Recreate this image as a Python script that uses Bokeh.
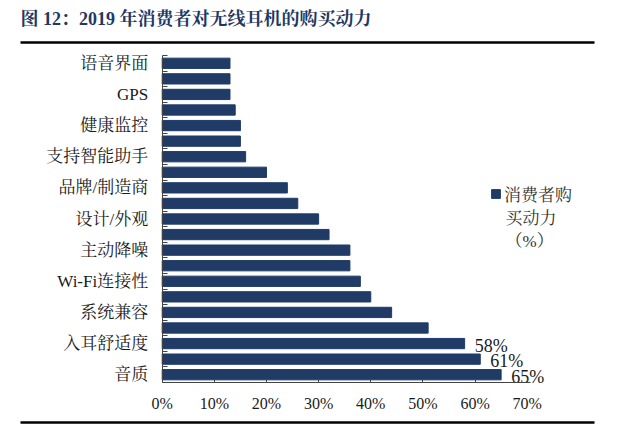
from bokeh.plotting import figure
from bokeh.models import (Range1d, FixedTicker, PrintfTickFormatter, Label, Arrow,
                          Legend, LegendItem, ColumnDataSource, LinearAxis)
from bokeh.core.properties import value
from bokeh.embed import file_html
from bokeh.resources import INLINE

# ---- data (top to bottom) ----
labels = ["语音界面", "", "GPS", "", "健康监控", "", "支持智能助手", "", "品牌/制造商", "",
          "设计/外观", "", "主动降噪", "", "Wi-Fi连接性", "", "系统兼容", "", "入耳舒适度", "", "音质"]
values = [13, 13, 13, 14, 15, 15, 16, 20, 24, 26, 30, 32, 36, 36, 38, 40, 44, 51, 58, 61, 65]
x_ticks = [0, 10, 20, 30, 40, 50, 60, 70]
shown_values = [58, 61, 65]
legend_line1 = "消费者购"
legend_line2 = "买动力"
legend_line3 = "（%）"
title_text = "图 12：2019 年消费者对无线耳机的购买动力"

n = len(values)
ypos = [n - 1 - i for i in range(n)]

W, H = 640, 429
NAVY = "#1F3B66"
TXT = "#1a1a1a"
FONT = "'Liberation Serif', 'Noto Serif CJK SC', 'Noto Sans CJK SC', serif"

# pixel geometry of the plotting area inside the full-canvas frame
x0_px, x70_px = 161.7, 526.7
ppx = (x70_px - x0_px) / 70.0
y_top_px, y_bot_px = 55.0, 382.0
ppy = (y_bot_px - y_top_px) / n

src = ColumnDataSource(dict(y=ypos, v=values, lab=labels))
lab_idx = [i for i in range(n - len(shown_values), n)]
txt_src = ColumnDataSource(dict(y=[ypos[i] for i in lab_idx],
                                v=[values[i] for i in lab_idx],
                                t=[f"{values[i]}%" for i in lab_idx]))

p = figure(width=W, height=H, output_backend="svg", toolbar_location=None,
           x_range=Range1d(-x0_px / ppx, (W - x0_px) / ppx),
           y_range=Range1d(-0.5 - (H - y_bot_px) / ppy, n - 0.5 + y_top_px / ppy),
           x_axis_location=None, y_axis_location=None,
           min_border=0, min_border_left=0, min_border_right=0,
           min_border_top=0, min_border_bottom=0)
p.outline_line_color = None
p.grid.visible = False
p.background_fill_color = "white"
p.border_fill_color = "white"

r = p.hbar(y="y", right="v", left=0, height=0.66, source=src, fill_color=NAVY, line_color=NAVY)

p.text(x="v", y="y", text="t", source=txt_src, x_offset=10, y_offset=2,
       text_baseline="middle", text_align="left", text_font=value(FONT),
       text_font_size="18px", text_color=TXT)

# axes pinned at the data origin
xa = LinearAxis(fixed_location=-0.5, bounds=(0, 70.6))
xa.ticker = FixedTicker(ticks=x_ticks)
xa.formatter = PrintfTickFormatter(format="%d%%")
xa.major_tick_in = 4
xa.major_tick_out = 0
xa.minor_tick_line_color = None
xa.major_label_standoff = 12
xa.major_label_text_font = FONT
xa.major_label_text_font_size = "16px"
xa.major_label_text_color = TXT
xa.axis_line_color = "#444444"
xa.major_tick_line_color = "#444444"
p.add_layout(xa, "below")

ya = LinearAxis(fixed_location=0, bounds=(-0.5, n - 0.5))
lab_pos = [ypos[i] for i, l in enumerate(labels) if l]
ya.ticker = FixedTicker(ticks=lab_pos, minor_ticks=[k + 0.5 for k in range(-1, n)])
ya.major_label_overrides = {ypos[i]: l for i, l in enumerate(labels) if l}
ya.major_tick_line_color = None
ya.major_tick_in = 0
ya.major_tick_out = 0
ya.minor_tick_in = 5
ya.minor_tick_out = 0
ya.minor_tick_line_color = "#444444"
ya.axis_line_color = "#444444"
ya.major_label_standoff = 14
ya.major_label_text_font = FONT
ya.major_label_text_font_size = "17px"
ya.major_label_text_color = TXT
p.add_layout(ya, "left")

# legend (first line with the swatch, rest as wrapped text)
leg = Legend(items=[LegendItem(label=legend_line1, renderers=[r])], location=(490, H - 206),
             glyph_width=11, glyph_height=11, padding=0, margin=0, spacing=0,
             label_standoff=3, label_height=20, border_line_color=None, background_fill_alpha=0,
             label_text_font=FONT, label_text_font_size="17px", label_text_color="#333333")
p.add_layout(leg, "center")
p.add_layout(Label(x=505, y=H - 218, x_units="screen", y_units="screen", text=legend_line2,
                   text_font=FONT, text_font_size="17px", text_color="#333333",
                   text_baseline="middle"))
p.add_layout(Label(x=505, y=H - 241, x_units="screen", y_units="screen", text=legend_line3,
                   text_font=FONT, text_font_size="17px", text_color="#333333",
                   text_baseline="middle"))

# title and rules
p.add_layout(Label(x=20, y=H - 18, x_units="screen", y_units="screen", text=title_text,
                   text_font=FONT, text_font_size="18px", text_font_style="bold",
                   text_color="#1F3864", text_baseline="middle"))
p.add_layout(Arrow(x_start=20, y_start=H - 42, x_end=594, y_end=H - 42, start_units="screen",
                   end_units="screen", end=None, line_width=2.5, line_color="black"))
p.add_layout(Arrow(x_start=20, y_start=H - 422, x_end=594, y_end=H - 422, start_units="screen",
                   end_units="screen", end=None, line_width=2.5, line_color="black"))

open("out.html", "w").write(file_html(p, INLINE))
